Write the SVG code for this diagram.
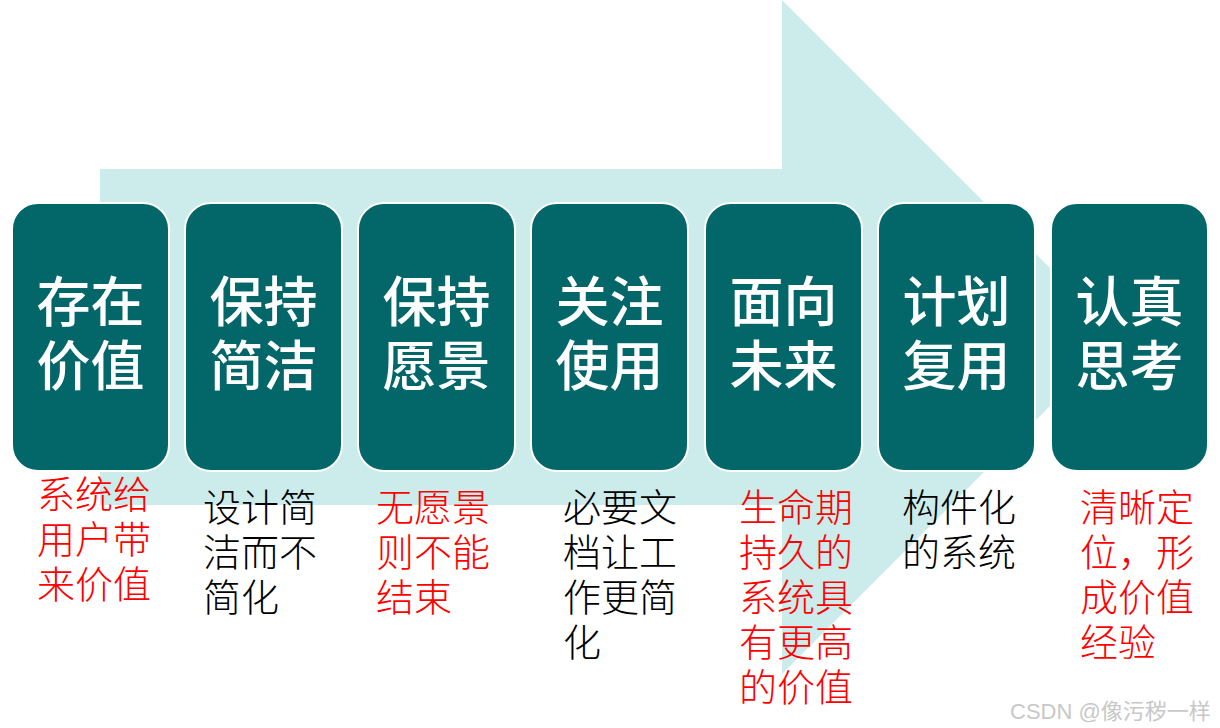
<svg xmlns="http://www.w3.org/2000/svg" width="1220" height="728" viewBox="0 0 1220 728">
<style>
.box{fill:#03676A;stroke:#ffffff;stroke-width:2}
.t{font-family:"Liberation Sans","Noto Sans CJK SC",sans-serif;font-size:54px;font-weight:500;fill:#ffffff;text-anchor:middle}
.d{font-family:"Liberation Serif","Noto Sans CJK SC",serif;font-size:38px;font-weight:300}
.r{fill:#ff0000}
.k{fill:#000000}
.wm{font-family:"Liberation Sans","Noto Sans CJK SC",sans-serif;font-size:22px;fill:#c8c8c8}
</style>
<rect width="1220" height="728" fill="#ffffff"/>
<polygon id="arrow" points="100,169 782,169 782,0 1119,337 782,674 782,505 100,505" fill="#CCECEB"/>
<g id="n1"><rect class="box" x="12" y="203" width="157" height="268" rx="26"/><text class="t"><tspan x="90.5" y="322">存在</tspan><tspan x="90.5" y="386">价值</tspan></text>
<text class="d r"><tspan x="37" y="508">系统给</tspan><tspan x="37" y="553">用户带</tspan><tspan x="37" y="598">来价值</tspan></text></g>
<g id="n2"><rect class="box" x="185" y="203" width="157" height="268" rx="26"/><text class="t"><tspan x="263.5" y="322">保持</tspan><tspan x="263.5" y="386">简洁</tspan></text>
<text class="d k"><tspan x="203" y="521">设计简</tspan><tspan x="203" y="566">洁而不</tspan><tspan x="203" y="611">简化</tspan></text></g>
<g id="n3"><rect class="box" x="358" y="203" width="157" height="268" rx="26"/><text class="t"><tspan x="436.5" y="322">保持</tspan><tspan x="436.5" y="386">愿景</tspan></text>
<text class="d r"><tspan x="376" y="521">无愿景</tspan><tspan x="376" y="566">则不能</tspan><tspan x="376" y="611">结束</tspan></text></g>
<g id="n4"><rect class="box" x="531" y="203" width="157" height="268" rx="26"/><text class="t"><tspan x="609.5" y="322">关注</tspan><tspan x="609.5" y="386">使用</tspan></text>
<text class="d k"><tspan x="563" y="521">必要文</tspan><tspan x="563" y="566">档让工</tspan><tspan x="563" y="611">作更简</tspan><tspan x="563" y="656">化</tspan></text></g>
<g id="n5"><rect class="box" x="705" y="203" width="157" height="268" rx="26"/><text class="t"><tspan x="783.5" y="322">面向</tspan><tspan x="783.5" y="386">未来</tspan></text>
<text class="d r"><tspan x="739" y="521">生命期</tspan><tspan x="739" y="566">持久的</tspan><tspan x="739" y="611">系统具</tspan><tspan x="739" y="656">有更高</tspan><tspan x="739" y="701">的价值</tspan></text></g>
<g id="n6"><rect class="box" x="878" y="203" width="157" height="268" rx="26"/><text class="t"><tspan x="956.5" y="322">计划</tspan><tspan x="956.5" y="386">复用</tspan></text>
<text class="d k"><tspan x="902" y="521">构件化</tspan><tspan x="902" y="566">的系统</tspan></text></g>
<g id="n7"><rect class="box" x="1051" y="203" width="157" height="268" rx="26"/><text class="t"><tspan x="1129.5" y="322">认真</tspan><tspan x="1129.5" y="386">思考</tspan></text>
<text class="d r"><tspan x="1080" y="521">清晰定</tspan><tspan x="1080" y="566">位，形</tspan><tspan x="1080" y="611">成价值</tspan><tspan x="1080" y="656">经验</tspan></text></g>
<g id="connectors"></g>
<text class="wm" x="1010" y="719">CSDN @像污秽一样</text>
</svg>
